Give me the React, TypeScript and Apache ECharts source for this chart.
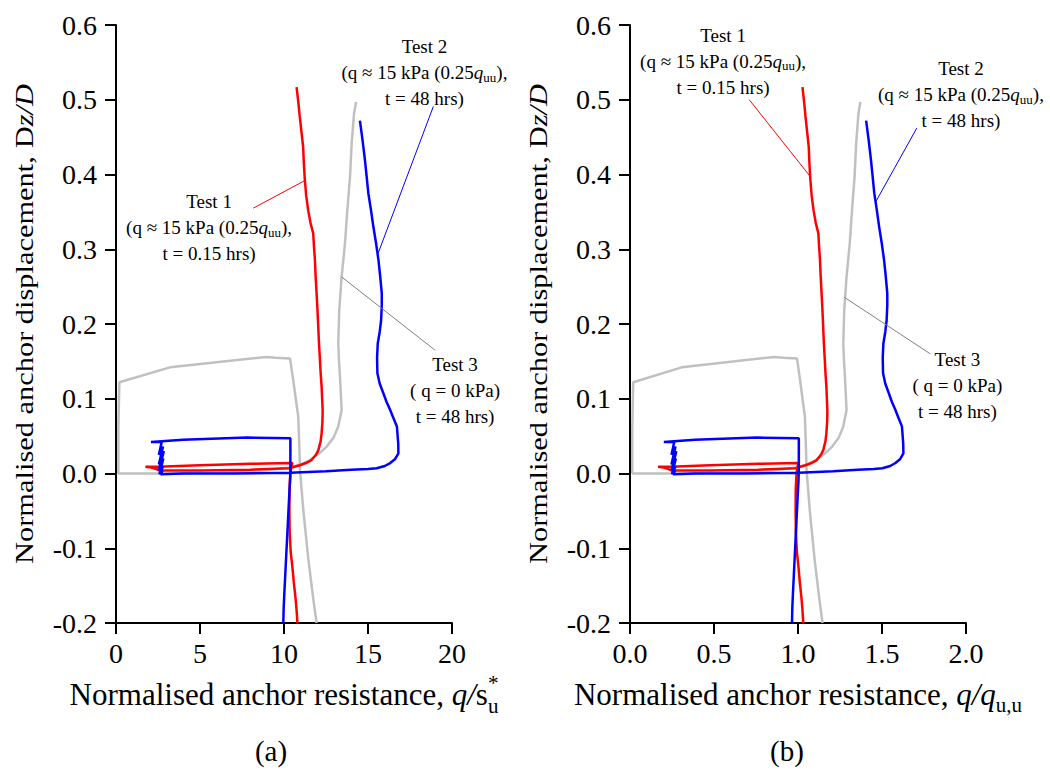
import React, { useEffect, useRef } from "react";
import * as echarts from "echarts";

const FONT = "Liberation Serif";

// Axis ticks
const xTicksA = [0, 5, 10, 15, 20];
const xTicksB = [0, 0.5, 1.0, 1.5, 2.0];
const yTicks = [-0.2, -0.1, 0, 0.1, 0.2, 0.3, 0.4, 0.5, 0.6];

// Curves in panel (a): [q/su*, Δz/D]
const test1Curve: [number, number][] = [
  [10.80, -0.200], [10.74, -0.180], [10.68, -0.165], [10.58, -0.145], [10.50, -0.125],
  [10.40, -0.105], [10.34, -0.080], [10.32, -0.050], [10.33, -0.020], [10.38, 0.000],
  [10.45, 0.010], [10.50, 0.014], [8.00, 0.013], [5.00, 0.011], [2.50, 0.009],
  [1.75, 0.009], [2.10, 0.008], [2.40, 0.006], [2.60, 0.004], [5.00, 0.004],
  [8.00, 0.005], [10.30, 0.007], [10.94, 0.011], [11.30, 0.014], [11.64, 0.018],
  [11.90, 0.025], [12.04, 0.031], [12.18, 0.043], [12.24, 0.054], [12.29, 0.070],
  [12.30, 0.085], [12.27, 0.100], [12.24, 0.116], [12.18, 0.135], [12.14, 0.152],
  [12.08, 0.175], [12.04, 0.196], [11.99, 0.220], [11.94, 0.241], [11.88, 0.265],
  [11.84, 0.286], [11.78, 0.305], [11.74, 0.321], [11.58, 0.335], [11.44, 0.352],
  [11.32, 0.372], [11.24, 0.393], [11.18, 0.415], [11.14, 0.437], [11.04, 0.457],
  [10.94, 0.477], [10.85, 0.497], [10.75, 0.517],
];

const test2Curve: [number, number][] = [
  [9.96, -0.200], [9.98, -0.180], [10.02, -0.160], [10.07, -0.138], [10.12, -0.115],
  [10.17, -0.093], [10.22, -0.071], [10.27, -0.048], [10.32, -0.026], [10.36, -0.010],
  [10.38, 0.005], [10.38, 0.047], [7.80, 0.048], [4.00, 0.045], [2.08, 0.042],
  [2.72, 0.042], [2.55, 0.025], [2.80, 0.036], [2.55, 0.012], [2.85, 0.030],
  [2.55, 0.004], [2.82, 0.020], [2.58, -0.001], [2.80, 0.010], [2.62, -0.001],
  [2.78, 0.004], [2.66, -0.001],
  [4.00, 0.000], [7.00, 0.000], [10.38, 0.001], [12.50, 0.003], [14.00, 0.005],
  [15.00, 0.006], [15.52, 0.007], [16.00, 0.010], [16.32, 0.014], [16.60, 0.019],
  [16.81, 0.027], [16.80, 0.040], [16.72, 0.063], [16.50, 0.075], [16.32, 0.085],
  [16.10, 0.096], [15.92, 0.107], [15.70, 0.120], [15.56, 0.134], [15.54, 0.155],
  [15.58, 0.174], [15.70, 0.190], [15.78, 0.205], [15.82, 0.225], [15.82, 0.241],
  [15.72, 0.265], [15.62, 0.286], [15.48, 0.308], [15.32, 0.330], [15.18, 0.352],
  [15.02, 0.375], [14.92, 0.397], [14.82, 0.419], [14.68, 0.445], [14.52, 0.472],
];

const test3Curve: [number, number][] = [
  [11.94, -0.200], [11.85, -0.185], [11.75, -0.169], [11.60, -0.142], [11.45, -0.115],
  [11.30, -0.082], [11.15, -0.049], [11.05, -0.022], [10.95, 0.005], [10.92, 0.030],
  [10.85, 0.076], [10.70, 0.100], [10.55, 0.125], [10.45, 0.140], [10.36, 0.154],
  [9.50, 0.155], [8.97, 0.156], [3.21, 0.142], [0.20, 0.122], [0.14, 0.060],
  [0.14, 0.000], [3.00, 0.000], [6.00, 0.001], [8.00, 0.002], [10.35, 0.008],
  [11.00, 0.012], [11.54, 0.018], [12.10, 0.027], [12.54, 0.036], [12.95, 0.048],
  [13.23, 0.063], [13.43, 0.085], [13.38, 0.108], [13.33, 0.130], [13.27, 0.152],
  [13.23, 0.174], [13.26, 0.197], [13.29, 0.219], [13.36, 0.241], [13.43, 0.263],
  [13.53, 0.285], [13.63, 0.308], [13.70, 0.330], [13.77, 0.352], [13.85, 0.375],
  [13.93, 0.397], [13.98, 0.420], [14.03, 0.442], [14.10, 0.462], [14.17, 0.482],
  [14.29, 0.497],
];

// Ratio q_u,u / su* for each test (panel b = panel a / ratio)
const quuOverSu = [10.47, 10.33, 10.42];

// Leader lines (data coordinates) for panels a and b
const leadersA: [number, number][][] = [
  [[8.17, 0.355], [11.25, 0.392]],
  [[18.89, 0.491], [15.61, 0.295]],
  [[18.99, 0.165], [13.43, 0.263]],
];
const leadersB: [number, number][][] = [
  [[0.71, 0.500], [1.074, 0.397]],
  [[1.707, 0.462], [1.464, 0.364]],
  [[1.788, 0.160], [1.274, 0.236]],
];

// Annotation anchors (data coordinates of middle line centre)
const labelAnchorsA: [number, number][] = [[5.54, 0.3285], [18.36, 0.5358], [20.18, 0.1112]];
const labelAnchorsB: [number, number][] = [[0.554, 0.5518], [1.970, 0.507], [1.949, 0.1173]];

const labelTexts = [
  "Test 1\n(q ≈ 15 kPa (0.25{i|q}{s|uu}),\nt = 0.15 hrs)",
  "Test 2\n(q ≈ 15 kPa (0.25{i|q}{s|uu}),\nt = 48 hrs)",
  "Test 3\n( q = 0 kPa)\nt = 48 hrs)",
];

const colors = ["#ff0000", "#0000ff", "#c0c0c0"];
const leaderColors = ["#ff0000", "#0000ff", "#808080"];
const curves = [test1Curve, test2Curve, test3Curve];

type Seg = { t: string; size: number; italic?: boolean; dy?: number; advance?: boolean };

function titleGroup(segs: Seg[], x: number, y: number, rotation = 0, scaleX = 1) {
  const ctx = document.createElement("canvas").getContext("2d")!;
  let cursor = 0;
  const placed: { s: Seg; x: number }[] = [];
  for (const s of segs) {
    ctx.font = `${s.italic ? "italic " : ""}${s.size}px "Liberation Serif"`;
    const w = ctx.measureText(s.t).width;
    placed.push({ s, x: cursor });
    if (s.advance !== false) cursor += w;
  }
  const total = cursor;
  return {
    type: "group",
    x,
    y,
    rotation,
    scaleX,
    children: placed.map((p) => {
      const style: any = {
        text: p.s.t,
        fontSize: p.s.size,
        fontFamily: FONT,
        fill: "#000",
        align: "left",
        verticalAlign: "middle",
      };
      if (p.s.italic) style.fontStyle = "italic";
      return { type: "text", x: p.x - total / 2, y: p.s.dy ?? 0, style };
    }),
  };
}

const fmt1 = (v: number) => (Math.abs(v) < 1e-9 ? 0 : v).toFixed(1);

export default function App() {
  const ref = useRef<HTMLDivElement>(null);
  useEffect(() => {
    const chart = echarts.init(ref.current!, null, { renderer: "svg" });
    const axisLine = { show: true, onZero: false, lineStyle: { color: "#000", width: 2 } };
    const axisTick = { show: true, length: 11, inside: false, lineStyle: { color: "#000", width: 2 } };
    const mkX = (i: number, ticks: number[], f: (v: number) => string) => ({
      type: "value",
      gridIndex: i,
      min: ticks[0],
      max: ticks[ticks.length - 1],
      interval: ticks[1] - ticks[0],
      axisLine,
      axisTick,
      splitLine: { show: false },
      axisLabel: { fontSize: 28, fontFamily: FONT, color: "#000", margin: 16, formatter: f },
    });
    const mkY = (i: number) => ({
      type: "value",
      gridIndex: i,
      min: yTicks[0],
      max: yTicks[yTicks.length - 1],
      interval: 0.1,
      axisLine,
      axisTick,
      splitLine: { show: false },
      axisLabel: { fontSize: 28, fontFamily: FONT, color: "#000", margin: 19, formatter: fmt1 },
    });

    const series: any[] = [];
    const order = [2, 0, 1];
    for (let p = 0; p < 2; p++) {
      for (const k of order) {
        const data = p === 0 ? curves[k] : curves[k].map(([x, y]) => [x / quuOverSu[k], y]);
        series.push({
          type: "line",
          xAxisIndex: p,
          yAxisIndex: p,
          data,
          showSymbol: false,
          symbol: "none",
          silent: true,
          clip: true,
          lineStyle: { color: colors[k], width: 2.5 },
          itemStyle: { color: colors[k] },
        });
      }
      const leaders = p === 0 ? leadersA : leadersB;
      leaders.forEach((l, k) => {
        series.push({
          type: "line",
          xAxisIndex: p,
          yAxisIndex: p,
          data: l,
          showSymbol: false,
          symbol: "none",
          silent: true,
          lineStyle: { color: leaderColors[k], width: 1 },
          itemStyle: { color: leaderColors[k] },
        });
      });
    }

    chart.setOption({
      animation: false,
      backgroundColor: "#fff",
      textStyle: { fontFamily: FONT },
      grid: [
        { left: 116, top: 25, width: 336, height: 598 },
        { left: 630, top: 25, width: 336, height: 598 },
      ],
      xAxis: [mkX(0, xTicksA, (v: number) => String(v)), mkX(1, xTicksB, fmt1)],
      yAxis: [mkY(0), mkY(1)],
      series,
    });

    const graphics: any[] = [];
    [labelAnchorsA, labelAnchorsB].forEach((anchors, p) => {
      anchors.forEach((a, k) => {
        const [px, py] = chart.convertToPixel({ gridIndex: p } as any, a) as number[];
        graphics.push({
          type: "text",
          x: px,
          y: py,
          silent: true,
          style: {
            text: labelTexts[k],
            fontSize: 19,
            fontFamily: FONT,
            fill: "#000",
            align: "center",
            verticalAlign: "middle",
            lineHeight: 26,
            rich: {
              i: { fontSize: 19, fontFamily: FONT, fontStyle: "italic", fill: "#000", lineHeight: 26, verticalAlign: "middle" },
              s: { fontSize: 13, fontFamily: FONT, fill: "#000", lineHeight: 13, padding: [9, 0, 0, 0], verticalAlign: "middle" },
            },
          },
        });
      });
    });

    graphics.push(
      titleGroup(
        [
          { t: "Normalised anchor resistance, ", size: 31 },
          { t: "q/", size: 31, italic: true },
          { t: "s", size: 31 },
          { t: "*", size: 21, dy: -11, advance: false },
          { t: "u", size: 21, dy: 12 },
        ],
        284,
        694
      )
    );
    graphics.push(
      titleGroup(
        [
          { t: "Normalised anchor resistance, ", size: 31 },
          { t: "q/q", size: 31, italic: true },
          { t: "u,u", size: 21, dy: 11 },
        ],
        798,
        694
      )
    );
    const ySegs: Seg[] = [
      { t: "Normalised anchor displacement, ", size: 26 },
      { t: "D", size: 26 },
      { t: "z/D", size: 26, italic: true },
    ];
    graphics.push(titleGroup(ySegs, 24, 324, Math.PI / 2, 1.17));
    graphics.push(titleGroup(ySegs, 538, 324, Math.PI / 2, 1.17));
    graphics.push(titleGroup([{ t: "(a)", size: 29 }], 271, 751));
    graphics.push(titleGroup([{ t: "(b)", size: 29 }], 787, 751));

    chart.setOption({ graphic: graphics });
    return () => chart.dispose();
  }, []);
  return (
    <div
      ref={ref}
      style={{ position: "absolute", left: 0, top: 0, width: 1050, height: 780, background: "#fff" }}
    />
  );
}
